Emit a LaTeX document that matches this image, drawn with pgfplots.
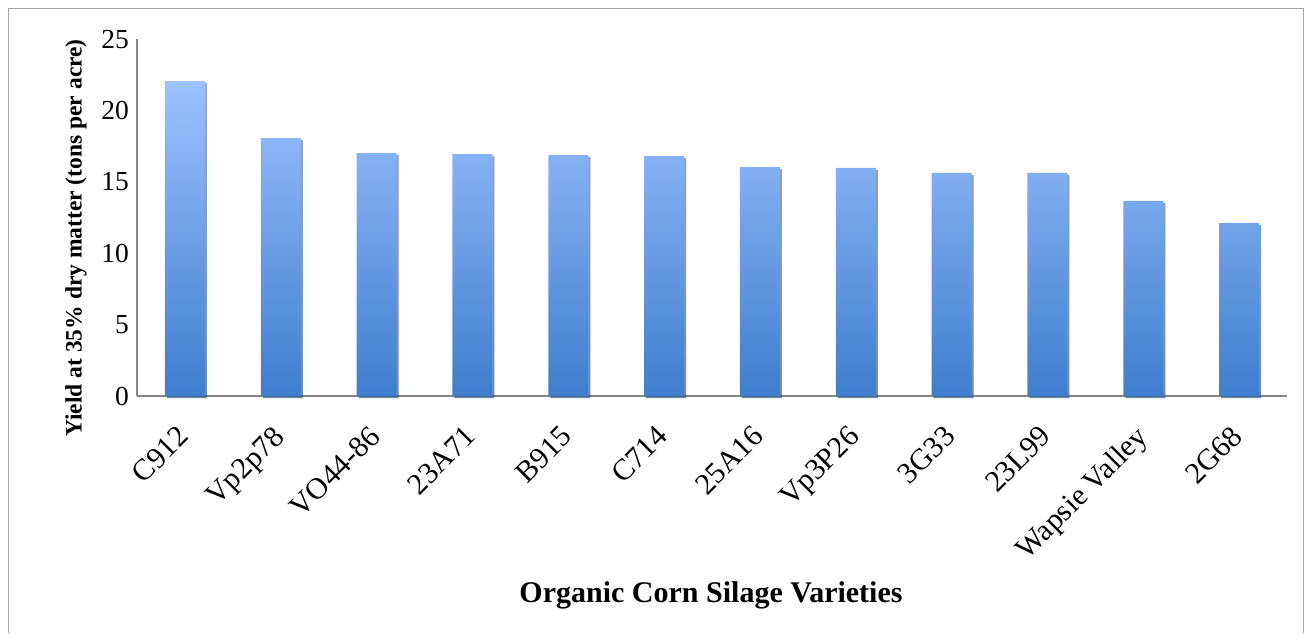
\documentclass[border=0pt]{standalone}
\usepackage{pgfplots}
\pgfplotsset{compat=1.18}
\usepackage{fontspec}
\setmainfont{Liberation Serif}
\usetikzlibrary{shadows}
\definecolor{axgray}{RGB}{134,134,134}
\definecolor{bartop}{RGB}{156,194,255}
\definecolor{barbot}{RGB}{62,126,206}
\begin{document}
\begin{tikzpicture}
\useasboundingbox (0,0) rectangle (1312pt,633pt);
\fill[white] (0,0) rectangle (1312pt,633pt);
\draw[color=black!35, line width=1.2pt] (8.5pt,0) -- (8.5pt,624.5pt) -- (1303.5pt,624.5pt) -- (1303.5pt,0);
\begin{axis}[
 at={(137pt,237pt)}, anchor=south west,
 scale only axis, width=1150pt, height=356.7pt,
 xmin=-0.5, xmax=11.5, ymin=0, ymax=25,
 axis x line*=bottom, axis y line*=left,
 axis line style={axgray, line width=1.3pt, -},
 ytick={0,5,...,25}, xtick={0,...,11},
 xticklabels={C912,Vp2p78,VO44-86,23A71,B915,C714,25A16,Vp3P26,3G33,23L99,Wapsie Valley,2G68},
 major tick length=0pt,
 /pgf/number format/assume math mode=true,
 yticklabel style={font=\fontsize{27.5}{32}\selectfont, anchor=east, inner sep=0pt, xshift=-8pt},
 xticklabel style={font=\fontsize{30}{34}\selectfont, xshift=-9pt, yshift=-28pt, rotate=45, anchor=north east, inner sep=0pt},
 clip=false,
]
\addplot[ybar, bar width=40pt, draw=none, top color=bartop, bottom color=barbot,
  drop shadow={shadow xshift=2pt, shadow yshift=-2pt, opacity=0.4, fill=black}]
  coordinates {(0,22.07) (1,18.08) (2,17.03) (3,16.96) (4,16.89) (5,16.82) (6,16.05) (7,15.98) (8,15.63) (9,15.63) (10,13.67) (11,12.12)};
\end{axis}
\node[rotate=90, font=\bfseries\fontsize{23.5}{28}\selectfont] at (76pt, 395pt) {Yield at 35\% dry matter (tons per acre)};
\node[font=\bfseries\fontsize{30}{36}\selectfont] at (711pt, 38pt) {Organic Corn Silage Varieties};
\end{tikzpicture}
\end{document}
